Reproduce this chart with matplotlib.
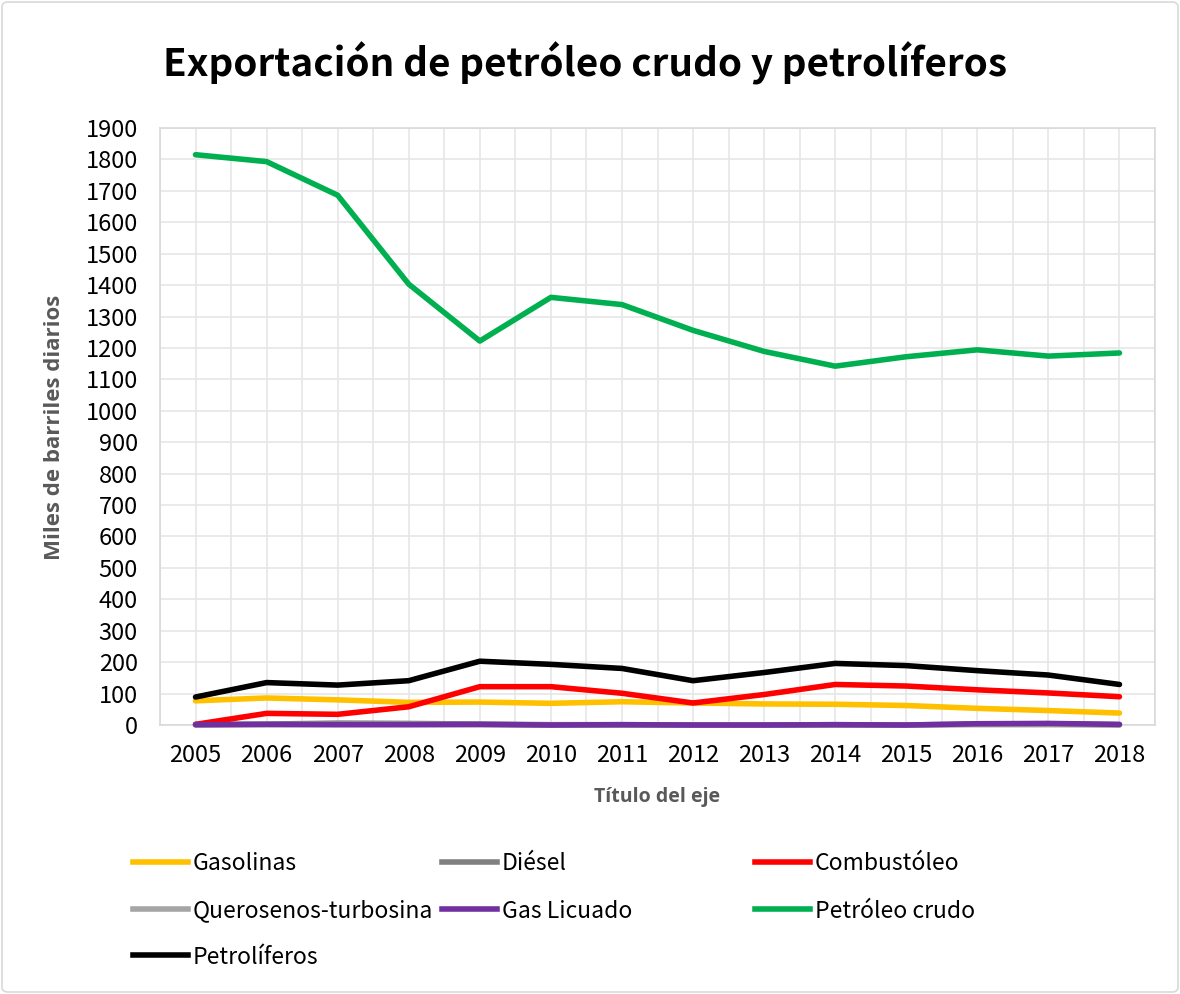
import matplotlib
matplotlib.use("Agg")
import matplotlib.pyplot as plt
from matplotlib.patches import FancyBboxPatch
from matplotlib.ticker import MultipleLocator
from matplotlib.lines import Line2D

years = [2005, 2006, 2007, 2008, 2009, 2010, 2011, 2012, 2013, 2014, 2015, 2016, 2017, 2018]
gasolinas = [77, 86, 80, 72, 73, 69, 74, 70, 67, 66, 62, 53, 46, 38]
diesel = [2, 3, 6, 5, 3, 1, 1, 0, 0, 1, 0, 3, 4, 1]
combustoleo = [2, 37, 34, 58, 122, 122, 101, 70, 97, 129, 124, 112, 102, 90]
querosenos = [0, 1, 2, 2, 1, 0, 0, 0, 0, 0, 0, 1, 1, 0]
gas_licuado = [1, 2, 1, 1, 2, 0, 1, 0, 0, 1, 0, 4, 5, 2]
petroleo_crudo = [1815, 1793, 1686, 1403, 1222, 1361, 1338, 1256, 1189, 1142, 1172, 1194, 1174, 1184]
petroliferos = [89, 135, 127, 141, 203, 193, 180, 141, 167, 196, 189, 173, 159, 129]

series = [
    ("Gasolinas", gasolinas, "#FFC000"),
    ("Diésel", diesel, "#808080"),
    ("Combustóleo", combustoleo, "#FF0000"),
    ("Querosenos-turbosina", querosenos, "#A5A5A5"),
    ("Gas Licuado", gas_licuado, "#7030A0"),
    ("Petróleo crudo", petroleo_crudo, "#00B050"),
    ("Petrolíferos", petroliferos, "#000000"),
]

title = "Exportación de petróleo crudo y petrolíferos"
ylabel = "Miles de barriles diarios"
xlabel = "Título del eje"

W, H = 1180, 994
fig = plt.figure(figsize=(W / 100, H / 100), dpi=100)
ax = fig.add_axes([160 / W, 1 - 725 / H, (1155 - 160) / W, (725 - 128) / H])

handles = []
for name, vals, col in series:
    ln, = ax.plot(years, vals, color=col, lw=4, label=name, clip_on=False, zorder=3,
                  solid_capstyle="round", solid_joinstyle="round")
    handles.append(ln)

ax.set_xlim(2004.5, 2018.5)
ax.set_ylim(0, 1900)
ax.xaxis.set_major_locator(MultipleLocator(1))
ax.xaxis.set_minor_locator(MultipleLocator(0.5))
ax.yaxis.set_major_locator(MultipleLocator(100))
ax.grid(True, which="both", axis="x", color="#E6E6E6", lw=1.2)
ax.grid(True, which="major", axis="y", color="#E6E6E6", lw=1.2)
ax.set_axisbelow(True)
for s in ax.spines.values():
    s.set_color("#D9D9D9")
    s.set_linewidth(1.2)
ax.tick_params(which="both", length=0)
ax.tick_params(axis="x", pad=14)
ax.tick_params(axis="y", pad=16)
cjk_font = ["Noto Sans CJK JP", "DejaVu Sans"]
for lab in ax.get_xticklabels() + ax.get_yticklabels():
    lab.set_family(cjk_font)
    lab.set_fontsize(17)
    lab.set_color("#000000")

fig.text(163 / W, 1 - 63 / H, title, fontsize=27.8, fontweight="bold", family=cjk_font,
         ha="left", va="center", color="#000000")
fig.text(55 / W, 1 - 427 / H, ylabel, rotation=90, fontsize=16, fontweight="bold",
         family=["Open Sans", "DejaVu Sans"], color="#595959", ha="center", va="center")
fig.text(657 / W, 1 - 797 / H, xlabel, fontsize=14, fontweight="bold",
         family=["Open Sans", "DejaVu Sans"], color="#595959", ha="center", va="center")

# legend: 3 columns, filled row by row, each entry placed at its cell
leg_prop = {"family": cjk_font, "size": 16.5}
col_x = [133, 442, 755]
row_y = [864, 911, 957]
for i, (name, vals, col) in enumerate(series):
    r, c = divmod(i, 3)
    h = Line2D([], [], color=col, lw=4)
    fig.legend([h], [name], loc="center left", bbox_to_anchor=(col_x[c] / W, 1 - row_y[r] / H),
               frameon=False, prop=leg_prop, handlelength=2.4, handletextpad=0.2,
               borderaxespad=0, borderpad=0)

border = FancyBboxPatch((2 / W, 2 / H), 1 - 4 / W, 1 - 4 / H, boxstyle="round,pad=0,rounding_size=0.005",
                        transform=fig.transFigure, fill=False, edgecolor="#D9D9D9", lw=1.2)
fig.patches.append(border)

fig.savefig("out.png", dpi=100)
